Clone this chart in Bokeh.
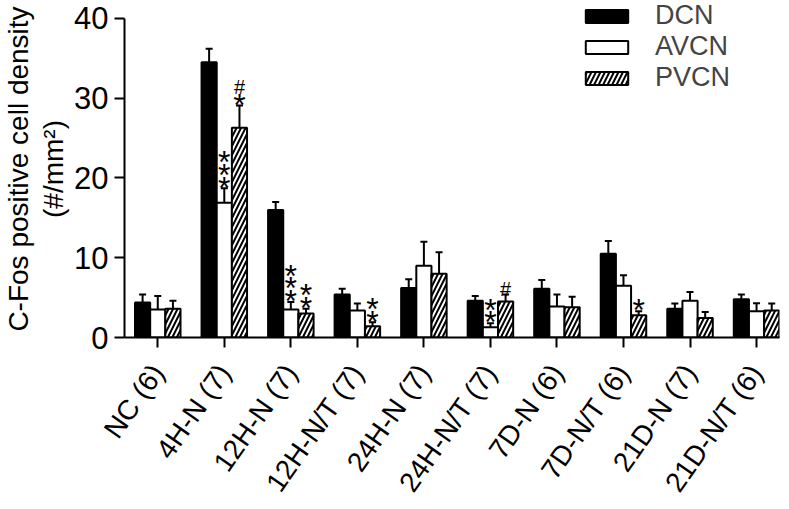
import numpy as np
from bokeh.plotting import figure
from bokeh.models import (ColumnDataSource, FixedTicker, Whisker, TeeHead, Legend,
                          LegendItem, Range1d)
from bokeh.core.properties import value
from bokeh.embed import file_html
from bokeh.resources import INLINE

# ---------------- data ----------------
groups = ["NC (6)", "4H-N (7)", "12H-N (7)", "12H-N/T (7)", "24H-N (7)",
          "24H-N/T (7)", "7D-N (6)", "7D-N/T (6)", "21D-N (7)", "21D-N/T (6)"]
dcn = [4.4, 34.5, 16.0, 5.4, 6.2, 4.6, 6.1, 10.5, 3.6, 4.8]
dcn_err = [1.0, 1.7, 1.0, 0.7, 1.1, 0.6, 1.1, 1.6, 0.65, 0.6]
avcn = [3.5, 16.9, 3.5, 3.4, 9.0, 1.3, 3.9, 6.5, 4.6, 3.3]
avcn_err = [1.7, 1.8, 0.95, 0.85, 3.0, 0.5, 1.5, 1.3, 1.1, 1.0]
pvcn = [3.6, 26.3, 3.0, 1.4, 8.0, 4.5, 3.8, 2.8, 2.45, 3.4]
pvcn_err = [1.0, 2.8, 0.6, 0.5, 2.7, 0.9, 1.3, 0.5, 0.75, 0.85]
y_ticks = [0, 10, 20, 30, 40]
series_names = ["DCN", "AVCN", "PVCN"]
y_label = "C-Fos positive cell density\n(#/mm\u00b2)"
# significance marks: (group index, series, symbols from bottom to top)
marks = [(1, "AVCN", "***"), (1, "PVCN", "*#"), (2, "AVCN", "***"),
         (2, "PVCN", "**"), (3, "PVCN", "**"), (5, "AVCN", "**"),
         (5, "PVCN", "#"), (7, "PVCN", "*")]

FONT = "Liberation Sans"
vals = {"DCN": dcn, "AVCN": avcn, "PVCN": pvcn}
errs = {"DCN": dcn_err, "AVCN": avcn_err, "PVCN": pvcn_err}
offsets = {"DCN": -0.228, "AVCN": 0.0, "PVCN": 0.228}
bar_w = 0.228

p = figure(width=789, height=509, output_backend="svg", toolbar_location=None,
           x_range=Range1d(-0.5, 9.345), y_range=Range1d(0, 42.25),
           min_border_left=123, min_border_right=10, min_border_top=0,
           min_border_bottom=171)
p.outline_line_color = None
p.grid.visible = False
p.background_fill_color = "white"

renderers = {}
xs_idx = np.arange(len(groups))
for name in series_names:
    src = ColumnDataSource(dict(
        x=xs_idx + offsets[name],
        top=vals[name],
        upper=np.array(vals[name]) + np.array(errs[name]),
    ))
    kw = dict(line_color="black", line_width=2)
    if name == "DCN":
        kw.update(fill_color="black")
    elif name == "AVCN":
        kw.update(fill_color="white")
    else:
        kw.update(fill_color="white", hatch_pattern="/", hatch_color="black",
                  hatch_weight=2, hatch_scale=9)
    r = p.vbar(x="x", top="top", bottom=0, width=bar_w, source=src, **kw)
    renderers[name] = r
    w = Whisker(source=src, base="x", lower="top", upper="upper",
                dimension="height", line_width=2, line_color="black",
                upper_head=TeeHead(size=7, line_width=2, line_color="black"),
                lower_head=None)
    p.add_layout(w)

# significance marks
STAR_FS, HASH_FS = 32, 20
mk = {"*": dict(x=[], y=[], yo=[]), "#": dict(x=[], y=[], yo=[])}
for gi, sname, syms in marks:
    top = vals[sname][gi] + errs[sname][gi]
    for k, ch in enumerate(syms):
        if ch == "*":
            d = 8.5 + 12.8 * k
            yo = -d + 0.24 * STAR_FS
        else:
            d = 10.0 if k == 0 else 8.5 + 14.5 * k
            yo = -d + 0.25 * HASH_FS
        mk[ch]["x"].append(gi + offsets[sname])
        mk[ch]["y"].append(top)
        mk[ch]["yo"].append(yo)
for ch, fs in (("*", STAR_FS), ("#", HASH_FS)):
    d = mk[ch]
    src = ColumnDataSource(dict(x=d["x"], y=d["y"], yo=d["yo"], t=[ch] * len(d["x"])))
    p.text(x="x", y="y", text="t", y_offset="yo", source=src,
           text_font=value(FONT), text_font_size=f"{fs}px", text_align="center",
           text_baseline="alphabetic", text_color="black")

# axes
for ax in (p.xaxis[0], p.yaxis[0]):
    ax.axis_line_width = 2
    ax.major_tick_line_width = 2
    ax.major_tick_out = 10
    ax.major_tick_in = 0
    ax.minor_tick_line_color = None
    ax.major_label_text_font = FONT
    ax.major_label_text_color = "black"
    ax.axis_line_color = "black"
    ax.major_tick_line_color = "black"

p.yaxis.ticker = FixedTicker(ticks=y_ticks)
p.yaxis.bounds = (0, 40)
p.yaxis.major_label_text_font_size = "31px"
p.yaxis.major_label_standoff = 6
p.yaxis.axis_label = y_label
p.yaxis.axis_label_text_font = FONT
p.yaxis.axis_label_text_font_size = "28px"
p.yaxis.axis_label_text_font_style = "normal"
p.yaxis.axis_label_text_color = "black"
p.yaxis.axis_label_standoff = 2
p.yaxis.axis_label_text_line_height = 1.12

p.xaxis.ticker = FixedTicker(ticks=list(range(len(groups))))
p.xaxis.major_label_overrides = {i: g for i, g in enumerate(groups)}
p.xaxis.major_label_orientation = 0.96
p.xaxis.major_label_text_font_size = "28px"
p.xaxis.major_label_standoff = 20

legend = Legend(items=[LegendItem(label=n, renderers=[renderers[n]]) for n in series_names],
                location=(456, 244), orientation="vertical",
                glyph_width=53, glyph_height=16, label_standoff=22,
                label_text_font=FONT, label_text_font_size="27px",
                label_text_line_height=0.92,
                label_height=20, spacing=0, padding=0, margin=0,
                border_line_color=None, background_fill_alpha=0)
p.add_layout(legend)

open("out.html", "w").write(file_html(p, INLINE))
